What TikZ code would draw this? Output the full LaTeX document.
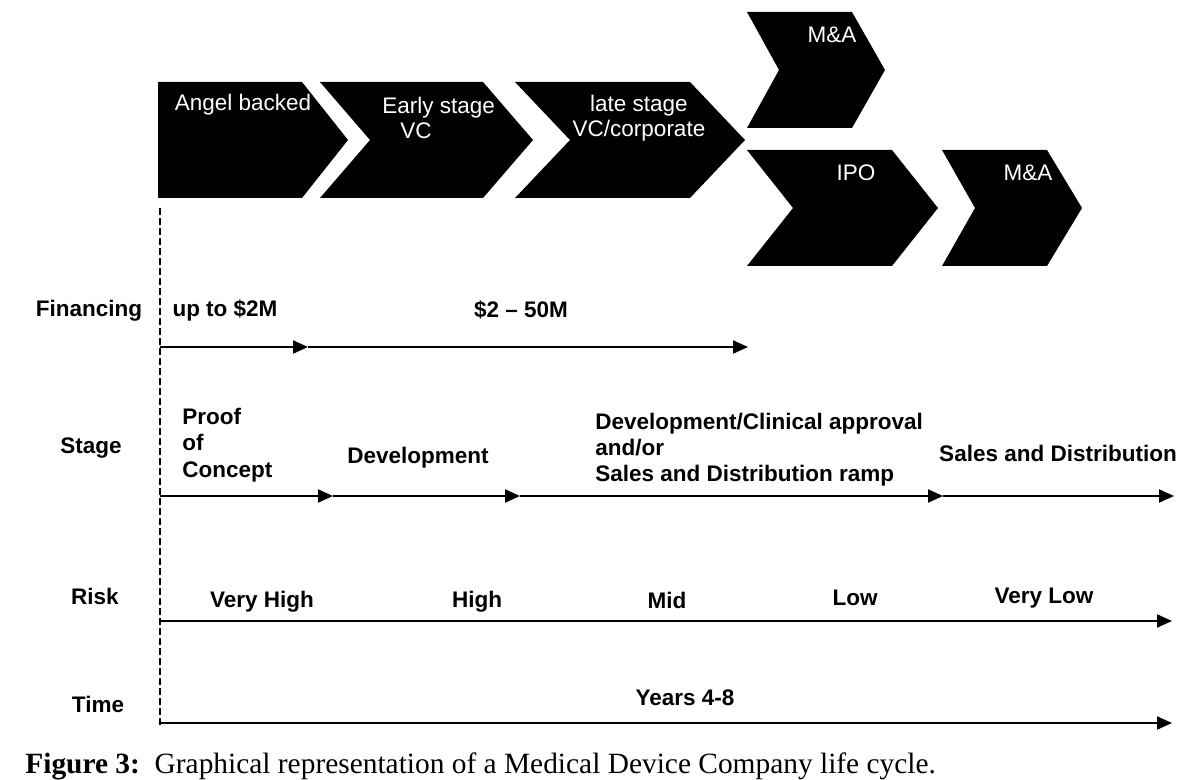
\documentclass[tikz,border=0pt]{standalone}
\usepackage{fontspec}
\setmainfont{Liberation Sans}
\newfontfamily\capfont{Liberation Serif}
\usetikzlibrary{arrows.meta,positioning}

\begin{document}
\begin{tikzpicture}[
    x=0.5pt, y=-0.5pt,
    chev/.style={fill=black},
    chevtext/.style={text=white, inner sep=0pt, font=\fontsize{11.25}{12.5}\selectfont},
    oneline/.style={text height=8.2pt, text depth=2.4pt},
    rowlabel/.style={inner sep=0pt, oneline, font=\bfseries\fontsize{11.25}{13}\selectfont},
    rowtext/.style={inner sep=0pt, font=\bfseries\fontsize{11.25}{13}\selectfont},
    axis/.style={line width=1pt, -{Triangle[length=7.5pt,width=6.5pt]}},
    startline/.style={line width=1.2pt, dash pattern=on 3.5pt off 1.5pt}
  ]
    \useasboundingbox (0,0) rectangle (1189,780);
    % chevrons: left x / top y / body width / notch / tip
    \foreach \cx/\cy/\cw/\cn/\ct in {158/82/144/0/46, 320/82/163/50/50, 515/82/175/55/55,
        747/12/105/32/33, 747/150/145/46/46, 942/150/105/33/35}
      \fill[chev] (\cx,\cy) -- ++(\cw,0) -- ++(\ct,58) -- ++(-\ct,58) -- ++(-\cw,0) -- ++(\cn,-58) -- cycle;
    \node[chevtext, oneline] (angel) at (243,105) {Angel backed};
    \node[chevtext, align=left, anchor=west] (early) at (382,118) {Early stage\\\hspace*{9pt}VC};
    \node[chevtext, align=center] (late) at (639,118) {late stage\\VC/corporate};
    \node[chevtext, oneline] (maup) at (832,37) {M\&A};
    \node[chevtext, oneline] (ipo) at (856,175) {IPO};
    \node[chevtext, oneline] (madown) at (1028,175) {M\&A};

    % row labels
    \node[rowlabel] (financing) at (89,311) {Financing};
    \node[rowlabel] (stage) at (91,448) {Stage};
    \node[rowlabel] (risk) at (95,599) {Risk};
    \node[rowlabel] (time) at (98,707) {Time};

    % financing
    \node[rowtext, oneline] (upto) at (225,311) {up to \$2M};
    \node[rowtext, oneline] (range) at (521,312) {\$2 -- 50M};
    % stage
    \node[rowtext, align=left, anchor=west, font=\bfseries\fontsize{11.25}{13.4}\selectfont] (proof) at (182,445) {Proof\\of\\Concept};
    \node[rowtext, oneline] (devel) at (418,458) {Development};
    \node[rowtext, align=left, anchor=west] (clinical) at (595,450) {Development/Clinical approval\\and/or\\Sales and Distribution ramp};
    \node[rowtext, oneline] (sales) at (1058,456) {Sales and Distribution};
    % risk
    \node[rowtext, oneline] (veryhigh) at (262,602) {Very High};
    \node[rowtext, oneline] (high) at (477,602) {High};
    \node[rowtext, oneline] (mid) at (667,603) {Mid};
    \node[rowtext, oneline] (low) at (855,600) {Low};
    \node[rowtext, oneline] (verylow) at (1044,598) {Very Low};
    % time
    \node[rowtext, oneline] (years) at (685,700) {Years 4-8};

    \coordinate (fin0) at (160,347);
    \coordinate (fin1) at (308,347);
    \coordinate (fin2) at (748,347);
    \coordinate (st0) at (160,496);
    \coordinate (st1) at (333,496);
    \coordinate (st2) at (520,496);
    \coordinate (st3) at (943,496);
    \coordinate (st4) at (1174,496);
    \coordinate (risk0) at (160,621);
    \coordinate (risk1) at (1172,621);
    \coordinate (time0) at (160,723);
    \coordinate (time1) at (1172,723);
    \coordinate (starttop) at (160,208);
    \coordinate (startbot) at (160,726);

    \draw[startline] (starttop) -- (startbot);
    \draw[axis] (fin0) -- (fin1);
    \draw[axis] (fin1) -- (fin2);
    \draw[axis] (st0) -- (st1);
    \draw[axis] (st1) -- (st2);
    \draw[axis] (st2) -- (st3);
    \draw[axis] (st3) -- (st4);
    \draw[axis] (risk0) -- (risk1);
    \draw[axis] (time0) -- (time1);

    \node[anchor=base west, inner sep=0pt, font=\capfont\fontsize{14.7}{16}\selectfont] (caption) at (25,773)
      {\textbf{Figure 3:}\ \ Graphical representation of a Medical Device Company life cycle.};
  \end{tikzpicture}
\end{document}
